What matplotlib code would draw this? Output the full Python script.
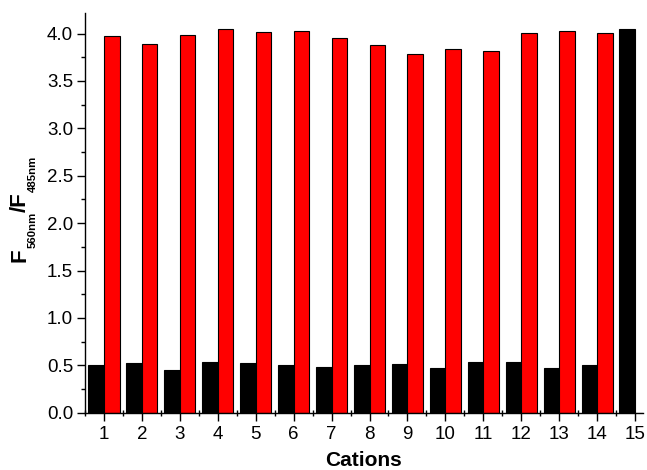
import matplotlib
matplotlib.use("Agg")
import matplotlib.pyplot as plt
import numpy as np
from matplotlib.ticker import MultipleLocator

plt.rcParams['font.family'] = ['Liberation Sans', 'DejaVu Sans']

categories = list(range(1, 16))
black_values = [0.50, 0.52, 0.45, 0.53, 0.52, 0.50, 0.48, 0.50, 0.51, 0.47, 0.53, 0.54, 0.47, 0.50, 4.05]
red_values = [3.97, 3.89, 3.98, 4.05, 4.02, 4.03, 3.95, 3.88, 3.78, 3.84, 3.82, 4.01, 4.03, 4.01, 0.0]
y_ticks = [0.0, 0.5, 1.0, 1.5, 2.0, 2.5, 3.0, 3.5, 4.0]
ylabel_parts = [("F", "main"), ("560nm", "sub"), ("/F", "main"), ("485nm", "sub")]

W, H = 647, 470
fig = plt.figure(figsize=(W/100, H/100), dpi=100)
ax = fig.add_axes([85/W, 1 - 412.7/H, (643-85)/W, (412.7-12.7)/H])

x = np.array(categories, dtype=float)
w = 0.41
ax.bar(x - w/2, black_values, width=w, color='black', edgecolor='black', linewidth=0.8)
ax.bar(x + w/2, red_values, width=w, color='#ff0000', edgecolor='black', linewidth=0.8)

ax.set_xlim(0.5, 15.21)
ax.set_ylim(0, 4.22)
ax.set_xticks(categories)
ax.set_xticklabels([str(c) for c in categories])
ax.set_yticks(y_ticks)
ax.set_yticklabels([f"{v:.1f}" for v in y_ticks])
ax.xaxis.set_minor_locator(MultipleLocator(0.5))
ax.yaxis.set_minor_locator(MultipleLocator(0.25))

for s in ['top', 'right']:
    ax.spines[s].set_visible(False)
for s in ['left', 'bottom']:
    ax.spines[s].set_linewidth(1.0)

ax.tick_params(axis='both', which='major', direction='out', length=5.5, width=1.0, labelsize=13.5)
ax.tick_params(axis='y', which='major', pad=3)
ax.tick_params(axis='x', which='major', pad=4)
ax.tick_params(axis='both', which='minor', direction='out', length=3, width=1.0)
ax.tick_params(axis='x', which='minor', direction='inout', length=5)

ax.set_xlabel('Cations', fontsize=15, fontweight='bold', labelpad=6)

# composite y label: large F, small subscripts, rotated 90 degrees
renderer = fig.canvas.get_renderer()
y_cur = 470 - 262.0  # pixels from bottom
styles = {"main": (16, 25.5), "sub": (8.2, 36.0)}
for txt, kind in ylabel_parts:
    size, xb = styles[kind]
    t = fig.text(xb/W, y_cur/H, txt, rotation=90, rotation_mode='anchor',
                 ha='left', va='baseline', fontsize=size, fontweight='bold')
    bb = t.get_window_extent(renderer)
    y_cur += bb.height

fig.savefig('out.png', dpi=100)
